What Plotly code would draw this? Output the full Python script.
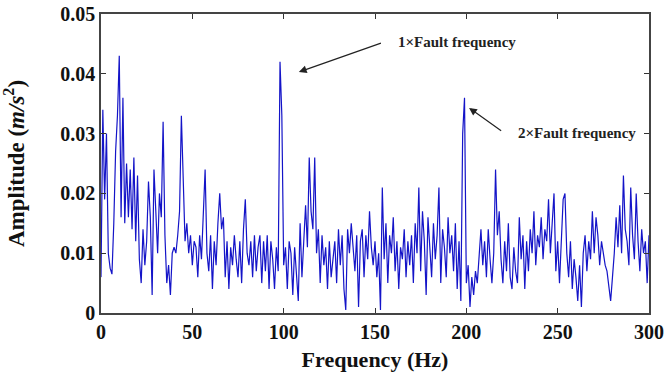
import plotly.graph_objects as go

freq_hz = list(range(0, 301))
amplitude = [
    0.006, 0.034, 0.019, 0.030, 0.010, 0.0075, 0.0065, 0.015, 0.027, 0.033,
    0.043, 0.016, 0.036, 0.015, 0.025, 0.016, 0.024, 0.014, 0.026, 0.012,
    0.023, 0.009, 0.005, 0.014, 0.008, 0.012, 0.022, 0.016, 0.003, 0.024,
    0.017, 0.010, 0.020, 0.016, 0.032, 0.013, 0.005, 0.008, 0.003, 0.010,
    0.011, 0.010, 0.013, 0.017, 0.033, 0.021, 0.012, 0.015, 0.010, 0.013,
    0.008, 0.012, 0.011, 0.006, 0.013, 0.009, 0.016, 0.024, 0.010, 0.007,
    0.013, 0.004, 0.012, 0.008, 0.015, 0.020, 0.014, 0.016, 0.006, 0.012,
    0.004, 0.011, 0.008, 0.013, 0.009, 0.006, 0.012, 0.005, 0.014, 0.019,
    0.010, 0.008, 0.012, 0.006, 0.013, 0.007, 0.011, 0.013, 0.005, 0.012,
    0.007, 0.013, 0.004, 0.012, 0.009, 0.004, 0.011, 0.007, 0.042, 0.033,
    0.008, 0.011, 0.004, 0.012, 0.010, 0.003, 0.011, 0.007, 0.002, 0.015,
    0.006, 0.012, 0.018, 0.011, 0.026, 0.017, 0.014, 0.026, 0.010, 0.014,
    0.005, 0.013, 0.008, 0.011, 0.004, 0.012, 0.006, 0.009, 0.012, 0.005,
    0.014, 0.008, 0.013, 0.004, 0.0005, 0.014, 0.010, 0.015, 0.011, 0.007,
    0.013, 0.001, 0.012, 0.014, 0.006, 0.013, 0.009, 0.017, 0.011, 0.008,
    0.012, 0.006, 0.010, 0.0005, 0.021, 0.009, 0.015, 0.005, 0.013, 0.010,
    0.016, 0.007, 0.012, 0.004, 0.011, 0.009, 0.014, 0.006, 0.012, 0.008,
    0.013, 0.005, 0.015, 0.010, 0.021, 0.007, 0.017, 0.012, 0.003, 0.016,
    0.011, 0.006, 0.015, 0.009, 0.013, 0.021, 0.005, 0.014, 0.011, 0.006,
    0.016, 0.010, 0.013, 0.007, 0.015, 0.004, 0.012, 0.002, 0.030, 0.036,
    0.005, 0.008, 0.001, 0.006, 0.003, 0.007, 0.005, 0.010, 0.014, 0.008,
    0.012, 0.006, 0.014, 0.009, 0.005, 0.010, 0.024, 0.013, 0.017, 0.009,
    0.005, 0.012, 0.007, 0.015, 0.006, 0.004, 0.011, 0.007, 0.005, 0.016,
    0.009, 0.013, 0.004, 0.012, 0.007, 0.014, 0.010, 0.017, 0.008, 0.013,
    0.011, 0.016, 0.009, 0.014, 0.012, 0.019, 0.010, 0.015, 0.020, 0.007,
    0.012, 0.005, 0.011, 0.019, 0.020, 0.010, 0.006, 0.012, 0.004, 0.009,
    0.006, 0.002, 0.008, 0.001, 0.010, 0.013, 0.007, 0.012, 0.009, 0.017,
    0.010, 0.016, 0.013, 0.008, 0.012, 0.010, 0.008, 0.007, 0.004, 0.002,
    0.006, 0.010, 0.016, 0.011, 0.018, 0.010, 0.023, 0.014, 0.012, 0.008,
    0.021, 0.013, 0.009, 0.020, 0.012, 0.007, 0.014, 0.010, 0.012, 0.005,
    0.013,
]

x_ticks = [0, 50, 100, 150, 200, 250, 300]
y_ticks = [0, 0.01, 0.02, 0.03, 0.04, 0.05]
y_tick_labels = ["0", "0.01", "0.02", "0.03", "0.04", "0.05"]

label_1x = "1×Fault frequency"
label_2x = "2×Fault frequency"

serif = "Liberation Serif, Times New Roman, serif"

fig = go.Figure()
fig.add_trace(go.Scatter(
    x=freq_hz, y=amplitude, mode="lines",
    line=dict(color="#1414c8", width=1.2),
    showlegend=False, hoverinfo="skip",
))

axis_common = dict(
    showgrid=False, zeroline=False,
    showline=True, linecolor="#444444", linewidth=1.5, mirror="ticks",
    ticks="inside", ticklen=5, tickwidth=1.2, tickcolor="#333333",
    tickfont=dict(family=serif, size=20, color="#111111", weight="bold"),
)

fig.update_xaxes(
    range=[0, 300], tickvals=x_ticks,
    title=dict(text="<b>Frequency (Hz)</b>", font=dict(family=serif, size=22, color="#111111"), standoff=10),
    **axis_common,
)
fig.update_yaxes(
    range=[0, 0.05], tickvals=y_ticks, ticktext=y_tick_labels,
    title=dict(text="<b>Amplitude (<i>m/s</i><sup>2</sup>)</b>", font=dict(family=serif, size=23, color="#111111"), standoff=30),
    **axis_common,
)

# arrows (tail -> head)
fig.add_annotation(x=108.3, y=0.0403, ax=154.9, ay=0.0453, xref="x", yref="y",
                   axref="x", ayref="y", text=" ", showarrow=True,
                   arrowhead=2, arrowsize=1.3, arrowwidth=1.2, arrowcolor="#222222")
fig.add_annotation(x=201.5, y=0.0343, ax=220.7, ay=0.0301, xref="x", yref="y",
                   axref="x", ayref="y", text=" ", showarrow=True,
                   arrowhead=2, arrowsize=1.3, arrowwidth=1.2, arrowcolor="#222222")
fig.add_annotation(x=161.4, y=0.0453, xref="x", yref="y", text="<b>" + label_1x + "</b>",
                   showarrow=False, xanchor="left", yanchor="middle",
                   font=dict(family=serif, size=15, color="#222222"))
fig.add_annotation(x=227.3, y=0.0301, xref="x", yref="y", text="<b>" + label_2x + "</b>",
                   showarrow=False, xanchor="left", yanchor="middle",
                   font=dict(family=serif, size=15, color="#222222"))

fig.update_layout(
    width=666, height=380,
    margin=dict(l=101, r=17, t=14, b=67, autoexpand=False),
    plot_bgcolor="white", paper_bgcolor="white",
)

fig.write_html("out.html")
